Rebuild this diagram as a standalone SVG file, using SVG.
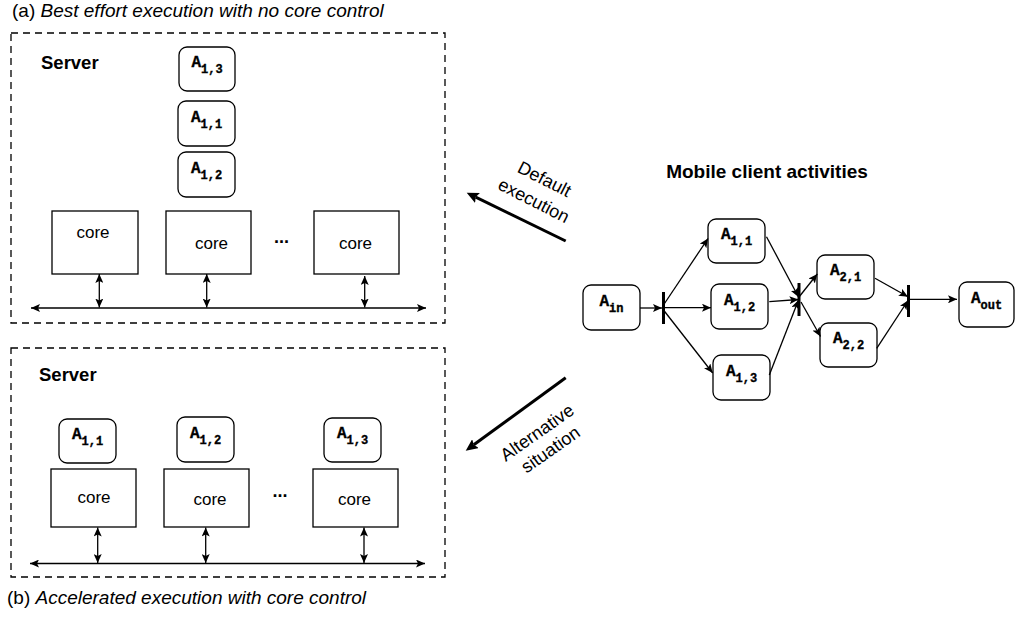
<svg xmlns="http://www.w3.org/2000/svg" width="1015" height="618" viewBox="0 0 1015 618">
<style>
text{font-family:"Liberation Sans",Arial,sans-serif;fill:#000}
.cap{font-size:19px}
.it{font-style:italic}
.hd{font-size:18.5px;font-weight:bold}
.core{font-size:17px}
.dots{font-size:18px;font-weight:bold}
.rot{font-size:18px}
.panel{fill:none;stroke:#000;stroke-width:1.3;stroke-dasharray:7 5}
.box{fill:#fff;stroke:#000;stroke-width:1.3}
.act{fill:#fff;stroke:#000;stroke-width:1.3}
.at{font-family:"Liberation Mono","Courier New",monospace;font-weight:bold;font-size:16px;stroke:#000;stroke-width:0.35}
.sub{font-size:12px}
.ln{fill:none;stroke:#000;stroke-width:1.3}
.bar{stroke:#000;stroke-width:3}
.big{fill:none;stroke:#000;stroke-width:3}
</style>
<defs>
<marker id="ah" markerUnits="userSpaceOnUse" markerWidth="10" markerHeight="8" refX="9" refY="4" orient="auto-start-reverse">
<path d="M0,0 L9,4 L0,8 L2,4 z" fill="#000"/>
</marker>
<marker id="ahb" markerUnits="userSpaceOnUse" markerWidth="13" markerHeight="11" refX="2" refY="5.5" orient="auto">
<path d="M0,0 L12,5.5 L0,11 L2,5.5 z" fill="#000"/>
</marker>
</defs>

<text x="12" y="16.5" class="cap">(a) <tspan class="it">Best effort execution with no core control</tspan></text>
<text x="7" y="604" class="cap">(b) <tspan class="it">Accelerated execution with core control</tspan></text>

<g id="panel-a">
<rect class="panel" x="11" y="33" width="434" height="290"/>
<text x="41" y="69" class="hd">Server</text>
</g>
<g id="panel-b">
<rect class="panel" x="11" y="348" width="434" height="229"/>
<text x="39" y="381" class="hd">Server</text>
</g>

<g id="a-core1"><rect class="box" x="52" y="211" width="86" height="63"/><text x="93" y="238" class="core" text-anchor="middle">core</text></g>
<g id="a-core2"><rect class="box" x="166" y="211" width="85" height="63"/><text x="211.5" y="249" class="core" text-anchor="middle">core</text></g>
<g id="a-core3"><rect class="box" x="314" y="211" width="85" height="63"/><text x="355.5" y="249" class="core" text-anchor="middle">core</text></g>
<g id="a-dots"><text x="281.5" y="243" class="dots" text-anchor="middle">...</text></g>

<g id="a-A13"><rect class="act" x="179" y="47" width="56" height="44" rx="8"/><text x="207" y="67" class="at" text-anchor="middle">A<tspan class="sub" dy="6">1,3</tspan></text></g>
<g id="a-A11"><rect class="act" x="178" y="101" width="57" height="45" rx="8"/><text x="206.5" y="121.5" class="at" text-anchor="middle">A<tspan class="sub" dy="6">1,1</tspan></text></g>
<g id="a-A12"><rect class="act" x="178" y="152" width="57" height="45" rx="8"/><text x="206.5" y="172.5" class="at" text-anchor="middle">A<tspan class="sub" dy="6">1,2</tspan></text></g>

<g id="b-core1"><rect class="box" x="51" y="469" width="85" height="58"/><text x="94" y="503" class="core" text-anchor="middle">core</text></g>
<g id="b-core2"><rect class="box" x="164" y="469" width="85" height="58"/><text x="210" y="505" class="core" text-anchor="middle">core</text></g>
<g id="b-core3"><rect class="box" x="313" y="469" width="85" height="58"/><text x="354.5" y="505" class="core" text-anchor="middle">core</text></g>
<g id="b-dots"><text x="280" y="497" class="dots" text-anchor="middle">...</text></g>

<g id="b-A11"><rect class="act" x="59" y="419" width="57" height="44" rx="8"/><text x="87.5" y="439" class="at" text-anchor="middle">A<tspan class="sub" dy="6">1,1</tspan></text></g>
<g id="b-A12"><rect class="act" x="177" y="417" width="57" height="45" rx="8"/><text x="205.5" y="437.5" class="at" text-anchor="middle">A<tspan class="sub" dy="6">1,2</tspan></text></g>
<g id="b-A13"><rect class="act" x="324" y="418" width="57" height="44" rx="8"/><text x="352.5" y="438" class="at" text-anchor="middle">A<tspan class="sub" dy="6">1,3</tspan></text></g>

<text x="767" y="178" class="hd" text-anchor="middle" style="font-size:19px">Mobile client activities</text>

<g id="m-Ain"><rect class="act" x="583" y="285" width="57" height="45" rx="8"/><text x="611.5" y="305.5" class="at" text-anchor="middle">A<tspan class="sub" dy="6">in</tspan></text></g>
<g id="m-A11"><rect class="act" x="708" y="219" width="57" height="44" rx="8"/><text x="736.5" y="239" class="at" text-anchor="middle">A<tspan class="sub" dy="6">1,1</tspan></text></g>
<g id="m-A12"><rect class="act" x="711" y="284" width="57" height="45" rx="8"/><text x="739.5" y="304.5" class="at" text-anchor="middle">A<tspan class="sub" dy="6">1,2</tspan></text></g>
<g id="m-A13"><rect class="act" x="713" y="355" width="57" height="45" rx="8"/><text x="741.5" y="375.5" class="at" text-anchor="middle">A<tspan class="sub" dy="6">1,3</tspan></text></g>
<g id="m-A21"><rect class="act" x="817" y="255" width="57" height="44" rx="8"/><text x="845.5" y="275" class="at" text-anchor="middle">A<tspan class="sub" dy="6">2,1</tspan></text></g>
<g id="m-A22"><rect class="act" x="820" y="323" width="57" height="44" rx="8"/><text x="848.5" y="343" class="at" text-anchor="middle">A<tspan class="sub" dy="6">2,2</tspan></text></g>
<g id="m-Aout"><rect class="act" x="959" y="282" width="55" height="45" rx="8"/><text x="986.5" y="302.5" class="at" text-anchor="middle">A<tspan class="sub" dy="6">out</tspan></text></g>

<g id="bars">
<line class="bar" x1="663.5" y1="292" x2="663.5" y2="324"/>
<line class="bar" x1="799" y1="283" x2="799" y2="316"/>
<line class="bar" x1="908.5" y1="285" x2="908.5" y2="317"/>
</g>

<g id="connectors">
<line class="ln" x1="31" y1="308" x2="426" y2="308" marker-start="url(#ah)" marker-end="url(#ah)"/>
<line class="ln" x1="99.3" y1="274" x2="99.3" y2="307.5" marker-start="url(#ah)" marker-end="url(#ah)"/>
<line class="ln" x1="206.7" y1="274" x2="206.7" y2="307.5" marker-start="url(#ah)" marker-end="url(#ah)"/>
<line class="ln" x1="364.7" y1="276" x2="364.7" y2="307.5" marker-start="url(#ah)" marker-end="url(#ah)"/>

<line class="ln" x1="30" y1="563.5" x2="425" y2="563.5" marker-start="url(#ah)" marker-end="url(#ah)"/>
<line class="ln" x1="97.7" y1="527.5" x2="97.7" y2="563" marker-start="url(#ah)" marker-end="url(#ah)"/>
<line class="ln" x1="205.7" y1="527.5" x2="205.7" y2="563" marker-start="url(#ah)" marker-end="url(#ah)"/>
<line class="ln" x1="364" y1="527.5" x2="364" y2="563" marker-start="url(#ah)" marker-end="url(#ah)"/>

<line class="big" x1="565.7" y1="241" x2="475.7" y2="197.1" marker-end="url(#ahb)"/>
<line class="big" x1="565.7" y1="377.7" x2="473.8" y2="444.8" marker-end="url(#ahb)"/>

<line class="ln" x1="640" y1="308" x2="662" y2="308" marker-end="url(#ah)"/>
<line class="ln" x1="663.5" y1="305" x2="708" y2="238.5" marker-end="url(#ah)"/>
<line class="ln" x1="663.5" y1="307.7" x2="711" y2="307.7" marker-end="url(#ah)"/>
<line class="ln" x1="663.5" y1="310" x2="712.7" y2="373" marker-end="url(#ah)"/>
<line class="ln" x1="766.5" y1="236.7" x2="798.5" y2="297" marker-end="url(#ah)"/>
<line class="ln" x1="769.3" y1="301.7" x2="798.5" y2="299.5" marker-end="url(#ah)"/>
<line class="ln" x1="769.3" y1="375" x2="798.5" y2="300" marker-end="url(#ah)"/>
<line class="ln" x1="799" y1="297" x2="817.3" y2="274" marker-end="url(#ah)"/>
<line class="ln" x1="801" y1="302" x2="820.5" y2="336.5" marker-end="url(#ah)"/>
<line class="ln" x1="875" y1="278.3" x2="908" y2="296.7" marker-end="url(#ah)"/>
<line class="ln" x1="876.7" y1="348.3" x2="908" y2="300.5" marker-end="url(#ah)"/>
<line class="ln" x1="908.5" y1="299.3" x2="957" y2="299.3" marker-end="url(#ah)"/>
</g>

<g id="labels">
<text class="rot" transform="translate(541.7,184.5) rotate(27)" text-anchor="middle">Default</text>
<text class="rot" transform="translate(531,206) rotate(27)" text-anchor="middle">execution</text>
<text class="rot" transform="translate(540.5,437.5) rotate(-35)" text-anchor="middle">Alternative</text>
<text class="rot" transform="translate(554,454.5) rotate(-35)" text-anchor="middle">situation</text>
</g>
</svg>
